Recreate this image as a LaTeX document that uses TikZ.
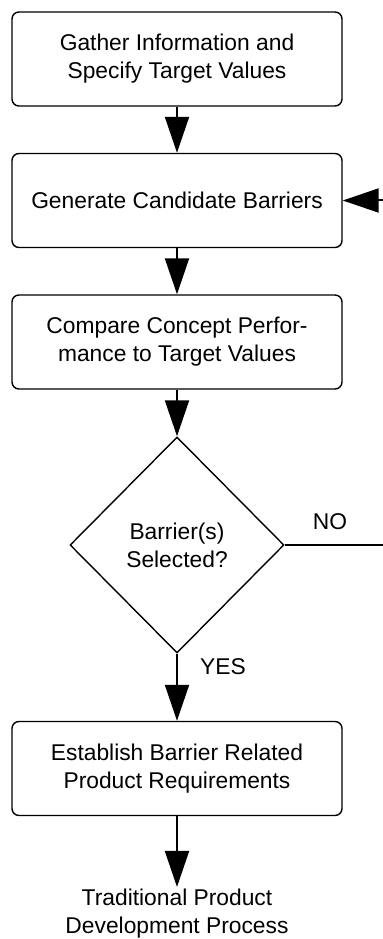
\documentclass[tikz,border=0pt]{standalone}
\usepackage{fontspec}
\setmainfont{Liberation Sans}
\usetikzlibrary{positioning,arrows.meta,shapes.geometric}

\tikzset{
  txt/.style={font=\fontsize{11.4}{14}\selectfont,align=center},
  stepbox/.style={txt,draw,rounded corners=3.5pt,line width=0.7pt,minimum width=165pt,minimum height=47pt},
  decide/.style={txt,draw,diamond,line width=0.7pt,minimum width=107pt,minimum height=108pt,inner sep=0pt},
  flow/.style={line width=1pt,-{Triangle[length=18pt,width=12pt]}},
}

\begin{document}
\begin{tikzpicture}[x=0.5pt,y=0.5pt]
\useasboundingbox (0,0) rectangle (383,939);
% Process steps
\node[stepbox] (gather) at (177,880) {Gather Information and\\Specify Target Values};
\node[stepbox] (generate) at (177,738.5) {Generate Candidate Barriers};
\node[stepbox] (compare) at (177,597) {Compare Concept Perfor-\\mance to Target Values};
\node[decide] (select) at (177,394) {Barrier(s)\\Selected?};
\node[stepbox] (establish) at (177,170.5) {Establish Barrier Related\\Product Requirements};
\node[txt,inner sep=1pt] (trad) at (177,25) {Traditional Product\\Development Process};

% Connectors
\draw[flow] (gather) -- (generate);
\draw[flow] (generate) -- (compare);
\draw[flow] (compare) -- (select);
\draw[flow] (select) -- (establish);
\draw[flow] (establish) -- (trad);

% Loop back (runs off the right edge)
\coordinate (noend) at (383,394);
\coordinate (back) at (383,738.5);
\draw[line width=0.7pt] (select.east) -- (noend);
\draw[flow] (back) -- (generate.east);
\node[txt] (no) at (330,417) {NO};
\node[txt] (yes) at (223,272) {YES};
\end{tikzpicture}
\end{document}
